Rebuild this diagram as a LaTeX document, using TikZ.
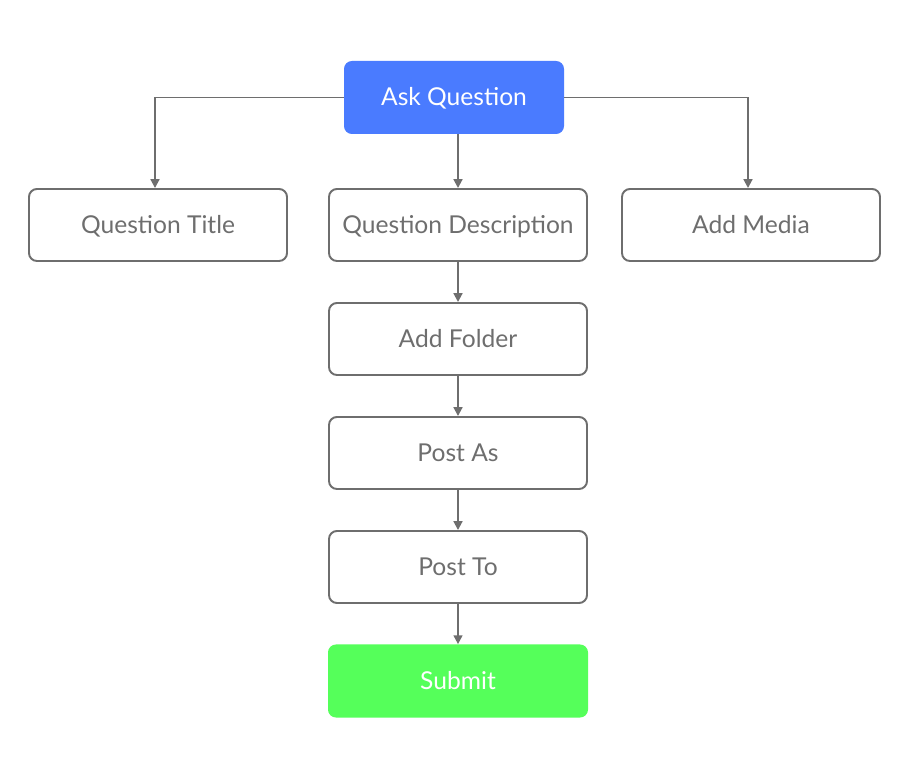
\documentclass[tikz,border=0pt]{standalone}
\usepackage{fontspec}
\setmainfont{Lato}
\usetikzlibrary{arrows.meta}

\definecolor{linegray}{HTML}{6E6E6E}
\definecolor{askblue}{HTML}{4A7BFF}
\definecolor{submitgreen}{HTML}{55FF5A}

\tikzset{
    stepbox/.style={draw=linegray, line width=1.1pt, rounded corners=4.5pt,
        minimum width=5.16cm, minimum height=1.44cm, text=linegray,
        text height=1.95ex, text depth=0.1ex,
        font=\fontsize{14}{16}\selectfont},
    colorbox/.style={rounded corners=4.5pt, minimum height=1.46cm,
        text=white, text height=1.95ex, text depth=0.1ex,
        font=\fontsize{14}{16}\selectfont},
    link/.style={draw=linegray, line width=1.1pt,
        -{Triangle[length=5pt,width=5pt]}}
}

\begin{document}
\begin{tikzpicture}
    \useasboundingbox (0, 0) rectangle (18.16, 15.5);

    % Top of the tree
    \node[colorbox, fill=askblue, minimum width=4.4cm] (ask) at (9.08, 13.55) {Ask Question};

    % Second row
    \node[stepbox] (title) at (3.16, 11.0) {Question Title};
    \node[stepbox] (desc) at (9.16, 11.0) {Question Description};
    \node[stepbox] (media) at (15.02, 11.0) {Add Media};

    % Column under the description
    \node[stepbox] (folder) at (9.16, 8.72) {Add Folder};
    \node[stepbox] (postas) at (9.16, 6.44) {Post As};
    \node[stepbox] (postto) at (9.16, 4.16) {Post To};
    \node[colorbox, fill=submitgreen, minimum width=5.2cm] (submit) at (9.16, 1.88) {Submit};

    % Connectors
    \draw[link] (ask.west) -| ([xshift=-0.06cm]title.north);
    \draw[link] (ask.east) -| ([xshift=-0.06cm]media.north);
    \draw[link] (ask.south -| desc.north) -- (desc.north);
    \foreach \a/\b in {desc/folder, folder/postas, postas/postto, postto/submit} {
        \draw[link] (\a.south) -- (\b.north);
    }
\end{tikzpicture}
\end{document}
